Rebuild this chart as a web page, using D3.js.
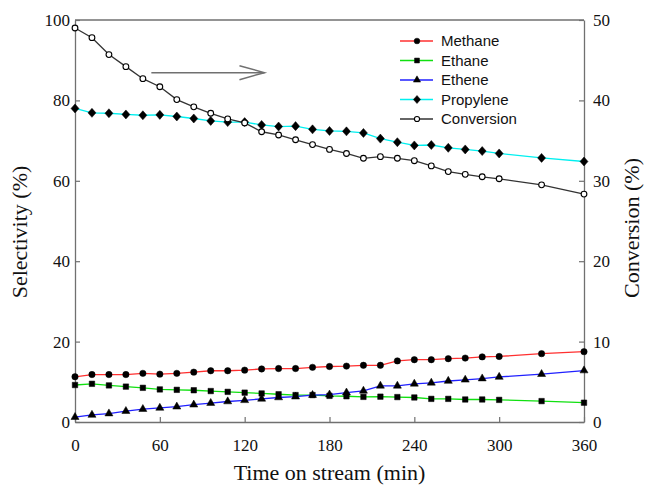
<!DOCTYPE html>
<html>
<head>
<meta charset="utf-8">
<script src="https://cdn.jsdelivr.net/npm/d3@7"></script>
<style>
  body { margin: 0; background: #fff; }
</style>
</head>
<body>
<div id="chart"></div>
<script>
// Data
const times = [0, 12, 24, 36, 48, 60, 72, 84, 96, 108, 120, 132, 144, 156, 168, 180, 192,
               204, 216, 228, 240, 252, 264, 276, 288, 300, 330, 360];
const methane = [11.25, 11.8, 11.8, 11.8, 12.1, 11.9, 12.1, 12.4, 12.75, 12.75, 12.9, 13.2, 13.3, 13.3, 13.6, 13.8, 13.9,
                 14.1, 14.1, 15.2, 15.5, 15.5, 15.75, 15.9, 16.2, 16.3, 17.0, 17.5];
const ethane = [9.2, 9.5, 9.1, 8.8, 8.5, 8.1, 8.0, 7.9, 7.7, 7.5, 7.3, 7.1, 6.9, 6.7, 6.7, 6.5, 6.4,
                6.25, 6.3, 6.2, 6.1, 5.75, 5.75, 5.6, 5.6, 5.5, 5.2, 4.8];
const ethene = [1.2, 1.75, 2.1, 2.7, 3.2, 3.5, 3.8, 4.3, 4.7, 5.1, 5.4, 5.75, 6.1, 6.3, 6.7, 6.8, 7.3,
                7.75, 9.0, 9.0, 9.5, 9.75, 10.2, 10.5, 10.8, 11.2, 11.9, 12.8];
const propylene = [78.0, 76.9, 76.8, 76.5, 76.3, 76.4, 76.0, 75.5, 74.9, 74.6, 74.6, 73.9, 73.5, 73.6, 72.8, 72.4, 72.3,
                   71.9, 70.5, 69.6, 68.8, 68.9, 68.2, 67.8, 67.4, 66.8, 65.7, 64.8];
const conversion = [49.0, 47.8, 45.7, 44.2, 42.7, 41.7, 40.1, 39.2, 38.4, 37.7, 37.2, 36.1, 35.7, 35.1, 34.5, 33.9, 33.4,
                    32.8, 33.0, 32.8, 32.5, 31.85, 31.15, 30.8, 30.5, 30.25, 29.5, 28.35];

const xTicks = [0, 60, 120, 180, 240, 300, 360];
const leftTicks = [0, 20, 40, 60, 80, 100];
const rightTicks = [0, 10, 20, 30, 40, 50];

// Size and margins
const W = 646, H = 488;
const margin = { top: 20, right: 62, bottom: 66, left: 75 },
      width = W - margin.left - margin.right,
      height = H - margin.top - margin.bottom;

const svg = d3.select("#chart")
  .append("svg")
    .attr("width", W)
    .attr("height", H)
  .append("g")
    .attr("transform", `translate(${margin.left},${margin.top})`);

// Scales
const x = d3.scaleLinear().domain([0, 360]).range([0, width]);
const yL = d3.scaleLinear().domain([0, 100]).range([height, 0]);
const yR = d3.scaleLinear().domain([0, 50]).range([height, 0]);

const axisColor = "#707070";
const tickFont = "'Liberation Serif', 'Times New Roman', serif";

// Axes, ticks pointing inward
const gx = svg.append("g")
  .attr("transform", `translate(0,${height})`)
  .call(d3.axisBottom(x).tickValues(xTicks).tickSize(-5).tickPadding(17).tickSizeOuter(0));
const gl = svg.append("g")
  .call(d3.axisLeft(yL).tickValues(leftTicks).tickSize(-5).tickPadding(5).tickSizeOuter(0));
const gr = svg.append("g")
  .attr("transform", `translate(${width},0)`)
  .call(d3.axisRight(yR).tickValues(rightTicks).tickSize(-5).tickPadding(9).tickSizeOuter(0));

[gx, gl, gr].forEach(g => {
  g.select(".domain").attr("stroke", axisColor).attr("stroke-width", 1.3);
  g.selectAll(".tick line").attr("stroke", axisColor).attr("stroke-width", 1.2);
  g.selectAll("text")
    .style("font-family", tickFont)
    .style("font-size", "17px")
    .attr("fill", "#111");
});

// Top frame line
svg.append("line")
  .attr("x1", 0).attr("x2", width)
  .attr("y1", 0).attr("y2", 0)
  .attr("stroke", axisColor)
  .attr("stroke-width", 1.3);

// Axis titles
svg.append("text")
  .attr("x", width / 2)
  .attr("y", height + 58)
  .attr("text-anchor", "middle")
  .style("font-family", tickFont)
  .style("font-size", "22px")
  .attr("fill", "#111")
  .text("Time on stream (min)");

svg.append("text")
  .attr("transform", `translate(${-48},${height / 2 + 11}) rotate(-90)`)
  .attr("text-anchor", "middle")
  .style("font-family", tickFont)
  .style("font-size", "22px")
  .attr("fill", "#111")
  .text("Selectivity (%)");

svg.append("text")
  .attr("transform", `translate(${width + 55},${height / 2 + 7}) rotate(-90)`)
  .attr("text-anchor", "middle")
  .style("font-family", tickFont)
  .style("font-size", "22px")
  .attr("fill", "#111")
  .text("Conversion (%)");

// Marker shapes
const diamond = {
  draw(ctx, size) {
    const h = Math.sqrt(size) * 0.68, w = Math.sqrt(size) * 0.6;
    ctx.moveTo(0, -h); ctx.lineTo(w, 0); ctx.lineTo(0, h); ctx.lineTo(-w, 0); ctx.closePath();
  }
};

const series = [
  { name: "Methane",    values: methane,    scale: yL, color: "#ff3030", symbol: d3.symbolCircle,   size: 32, fill: "#000" },
  { name: "Ethane",     values: ethane,     scale: yL, color: "#10e010", symbol: d3.symbolSquare,   size: 30, fill: "#000" },
  { name: "Ethene",     values: ethene,     scale: yL, color: "#2020ff", symbol: d3.symbolTriangle, size: 28, fill: "#000" },
  { name: "Propylene",  values: propylene,  scale: yL, color: "#00f0f0", symbol: diamond,           size: 44, fill: "#000" },
  { name: "Conversion", values: conversion, scale: yR, color: "#333333", symbol: d3.symbolCircle,   size: 26, fill: "#fff" }
];

// Lines and markers
series.forEach(s => {
  const pts = times.map((t, i) => ({ t, v: s.values[i] }));
  const line = d3.line().x(d => x(d.t)).y(d => s.scale(d.v));

  svg.append("path")
    .datum(pts)
    .attr("fill", "none")
    .attr("stroke", s.color)
    .attr("stroke-width", 1.3)
    .attr("d", line);

  svg.selectAll(null)
    .data(pts)
    .enter()
    .append("path")
      .attr("transform", d => `translate(${x(d.t)},${s.scale(d.v)})`)
      .attr("d", d3.symbol().type(s.symbol).size(s.size))
      .attr("fill", s.fill)
      .attr("stroke", "#000")
      .attr("stroke-width", s.fill === "#fff" ? 1.1 : 0.5);
});

// Arrow pointing to the conversion axis
const arrowFrom = [54, 86.9], arrowTo = [134, 86.9];
const ax1 = x(arrowFrom[0]), ax2 = x(arrowTo[0]), ay = yL(arrowFrom[1]);
svg.append("line")
  .attr("x1", ax1).attr("x2", ax2)
  .attr("y1", ay).attr("y2", ay)
  .attr("stroke", "#707070")
  .attr("stroke-width", 1.5);
svg.append("path")
  .attr("d", `M${ax2 - 25},${ay - 7} L${ax2},${ay} L${ax2 - 25},${ay + 7}`)
  .attr("fill", "none")
  .attr("stroke", "#707070")
  .attr("stroke-width", 1.5);

// Legend
const legend = svg.append("g")
  .attr("transform", `translate(${400 - margin.left},${41 - margin.top})`);

series.forEach((s, i) => {
  const row = legend.append("g").attr("transform", `translate(0,${i * 19.5})`);
  row.append("line")
    .attr("x1", 0).attr("x2", 33)
    .attr("stroke", s.color)
    .attr("stroke-width", 1.3);
  row.append("path")
    .attr("transform", "translate(17,0)")
    .attr("d", d3.symbol().type(s.symbol).size(s.size * 0.8))
    .attr("fill", s.fill)
    .attr("stroke", "#000")
    .attr("stroke-width", s.fill === "#fff" ? 1.1 : 0.5);
  row.append("text")
    .attr("x", 41)
    .attr("dy", "0.35em")
    .style("font-family", "'Liberation Sans', Arial, sans-serif")
    .style("font-size", "15px")
    .attr("fill", "#111")
    .text(s.name);
});
</script>
</body>
</html>
